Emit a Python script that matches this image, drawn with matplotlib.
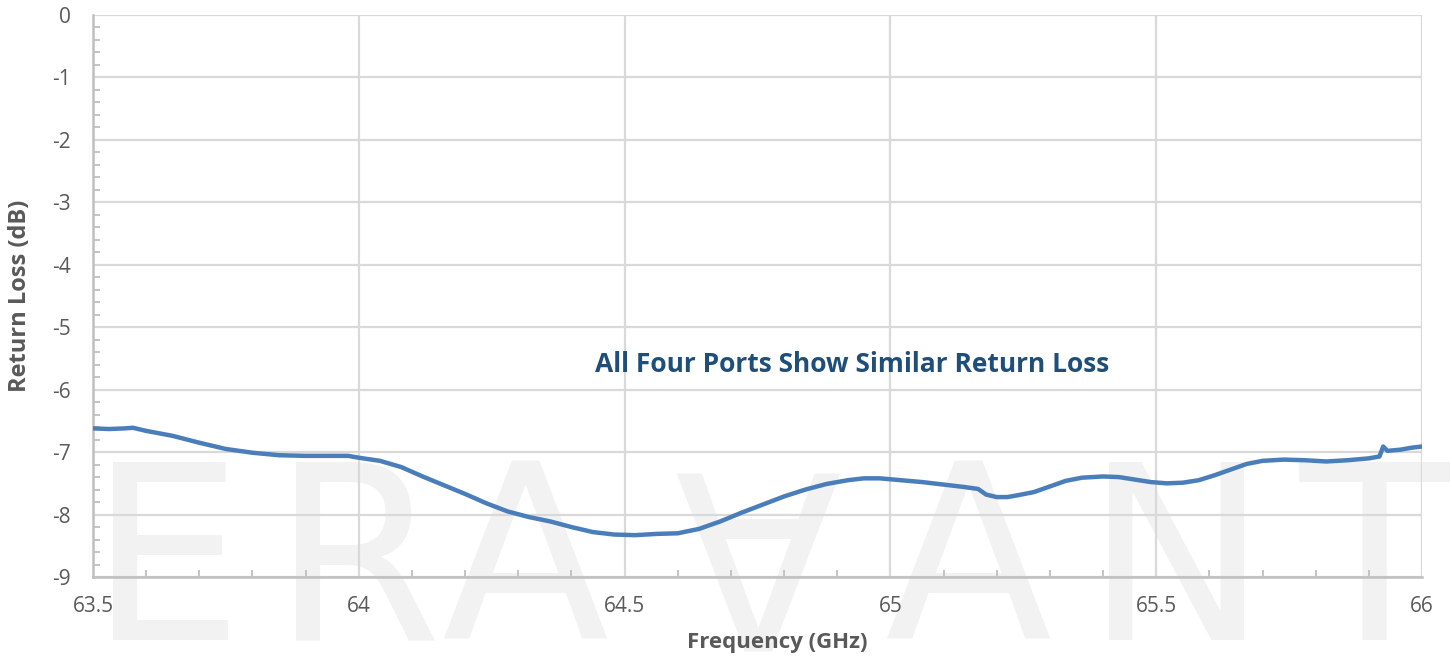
import matplotlib.pyplot as plt
from matplotlib.ticker import MultipleLocator

freq = [63.50, 63.53, 63.56, 63.575, 63.60, 63.65, 63.70, 63.75, 63.80, 63.85,
        63.90, 63.95, 63.98, 64.00, 64.04, 64.08, 64.12, 64.16, 64.20, 64.24,
        64.28, 64.32, 64.36, 64.40, 64.44, 64.48, 64.52, 64.56, 64.60, 64.64,
        64.68, 64.72, 64.76, 64.80, 64.84, 64.88, 64.92, 64.95, 64.98, 65.02,
        65.06, 65.10, 65.14, 65.165, 65.18, 65.20, 65.22, 65.24, 65.27, 65.30,
        65.33, 65.36, 65.40, 65.43, 65.46, 65.49, 65.52, 65.55, 65.58, 65.61,
        65.64, 65.67, 65.70, 65.74, 65.78, 65.82, 65.86, 65.90, 65.92, 65.927,
        65.935, 65.96, 65.98, 66.00]
return_loss = [-6.62, -6.63, -6.62, -6.61, -6.66, -6.74, -6.85, -6.95, -7.01, -7.05,
               -7.06, -7.06, -7.06, -7.09, -7.14, -7.24, -7.39, -7.53, -7.67, -7.82,
               -7.95, -8.04, -8.11, -8.20, -8.28, -8.32, -8.33, -8.31, -8.30, -8.23,
               -8.11, -7.97, -7.84, -7.71, -7.60, -7.51, -7.45, -7.42, -7.42, -7.45,
               -7.48, -7.52, -7.56, -7.59, -7.68, -7.72, -7.72, -7.69, -7.64, -7.55,
               -7.46, -7.41, -7.39, -7.40, -7.44, -7.48, -7.50, -7.49, -7.45, -7.37,
               -7.28, -7.19, -7.14, -7.12, -7.13, -7.15, -7.13, -7.10, -7.07, -6.91,
               -6.98, -6.96, -6.93, -6.91]

watermark = ["E", "R", "A", "A", "A", "N", "T"]
watermark_x = [166, 357, 525, 755, 968, 1176, 1374]
watermark_rot = [0, 0, 0, 180, 0, 0, 0]

plt.rcParams['font.family'] = ['Open Sans', 'DejaVu Sans']

fig = plt.figure(figsize=(14.52, 6.62), dpi=100)
W, H = 1452, 662

# light watermark behind the chart
for ch, x, r in zip(watermark, watermark_x, watermark_rot):
    yc = 572 if r == 0 else 538
    fig.text(x / W, 1 - yc / H, ch, ha='center', va='center', rotation=r,
             fontsize=176, color='#f2f2f2', family='DejaVu Sans', zorder=-1)

ax = fig.add_axes([93 / W, 1 - 577 / H, (1422 - 93) / W, (577 - 15) / H])
ax.patch.set_alpha(0)

ax.plot(freq, return_loss, color='#4a7ebb', lw=3.2, zorder=3)

ax.set_xlim(63.5, 66)
ax.set_ylim(-9, 0)
ax.xaxis.set_minor_locator(MultipleLocator(0.1))
ax.yaxis.set_minor_locator(MultipleLocator(0.2))
ax.set_xticks([63.5, 64, 64.5, 65, 65.5, 66])
ax.set_xticklabels(['63.5', '64', '64.5', '65', '65.5', '66'])
ax.set_yticks(range(-9, 1))
ax.set_yticklabels([str(v) for v in range(-9, 1)])

ax.grid(True, which='major', color='#d9d9d9', lw=1.6)
for s in ['top', 'right']:
    ax.spines[s].set_visible(False)
for s in ['left', 'bottom']:
    ax.spines[s].set_color('#bfbfbf')
    ax.spines[s].set_linewidth(1.8)

ax.tick_params(axis='both', which='both', direction='in', color='#bfbfbf',
               width=1.3, labelcolor='#595959', labelsize=15)
ax.tick_params(axis='both', which='major', length=0)
ax.tick_params(axis='both', which='minor', length=5)
ax.tick_params(axis='x', which='major', pad=14)
ax.tick_params(axis='y', which='major', pad=16)

ax.set_xlabel('Frequency (GHz)', fontsize=16, fontweight='bold', color='#595959')
ax.xaxis.set_label_coords(0.515, -0.098)
ax.set_ylabel('Return Loss (dB)', fontsize=17, fontweight='bold', color='#595959')
ax.yaxis.set_label_coords(-0.046, 0.5)

ax.text(64.928, -5.59, 'All Four Ports Show Similar Return Loss', ha='center',
        va='center', fontsize=19, fontweight='bold', color='#1f4e79')

fig.savefig('out.png', dpi=100)
